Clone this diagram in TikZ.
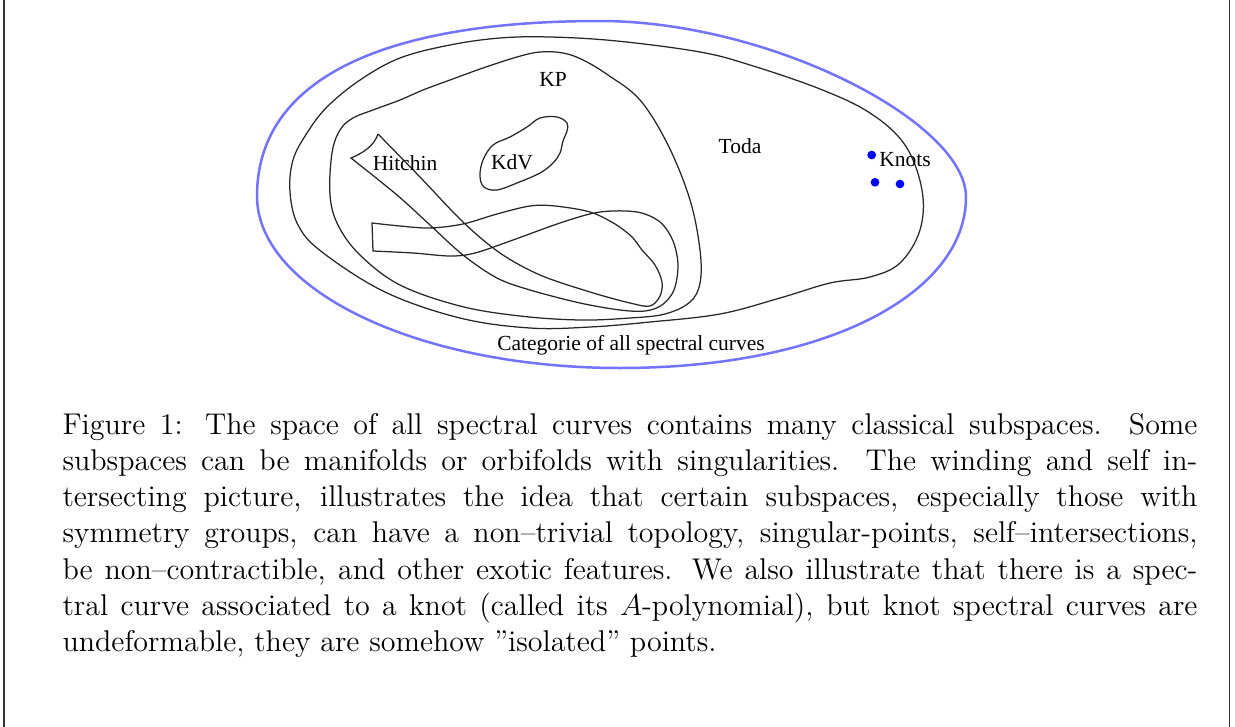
\documentclass[tikz,border=0pt]{standalone}
\usepackage{fontspec}
\newfontfamily\labelfont{Liberation Serif}
\definecolor{ellblue}{RGB}{115,115,255}
\definecolor{knotblue}{RGB}{0,0,255}
\begin{document}
\begin{tikzpicture}[x=0.4pt,y=-0.4pt,
  curve/.style={black!85, line width=0.5pt},
  region/.style={font=\labelfont\fontsize{8.6}{10}\selectfont, inner sep=0pt},
  knot/.style={fill=knotblue, draw=none},
  frameline/.style={black!80, line width=0.5pt}]
\useasboundingbox (0,0) rectangle (1235,727);
% frame sides
\coordinate (fl1) at (4,0); \coordinate (fl2) at (4,727);
\coordinate (fr1) at (1229.5,0); \coordinate (fr2) at (1229.5,727);
\draw[frameline] (fl1) -- (fl2);
\draw[frameline] (fr1) -- (fr2);
% outer blue oval
\coordinate (ovL) at (257,196);
\coordinate (ovT) at (600,21);
\coordinate (ovR) at (966,197);
\coordinate (ovB) at (620,368);
\draw[draw=ellblue, line width=1pt]
  (ovL) .. controls (257,82) and (377,21) .. (ovT)
        .. controls (770,21) and (966,122) .. (ovR)
        .. controls (966,292) and (830,368) .. (ovB)
        .. controls (420,368) and (257,291) .. (ovL) -- cycle;
% Toda
\draw[curve] plot[smooth cycle, tension=0.6] coordinates {
 (290,192) (293,160) (307,133) (327,107) (360,80) (400,58) (450,45) (500,38)
 (550,37) (617,41) (700,52) (750,65) (820,89) (870,113) (905,145) (922,190)
 (920,230) (900,263) (870,277) (830,283) (780,298) (720,314) (650,322) (590,327)
 (530,328) (460,318) (385,292) (322,252) (298,225)};
% KP
\draw[curve] plot[smooth cycle, tension=0.6] coordinates {
 (330,195) (332,153) (340,130) (353,118) (373,110) (400,100) (423,90) (450,80)
 (483,68) (517,57) (540,52) (563,53) (583,60) (608,75) (640,100) (668,145)
 (690,200) (700,250) (700,283) (690,302) (665,314) (630,318) (580,320) (520,316)
 (460,306) (400,285) (360,255) (338,225)};
% KdV
\draw[curve] plot[smooth cycle, tension=0.6] coordinates {
 (480,176) (483,160) (493,145) (510,137) (527,127) (540,118) (557,117) (567,123)
 (567,131) (563,141) (560,153) (553,163) (540,173) (517,183) (497,190) (484,187)};
% Hitchin
\draw[curve] plot[smooth, tension=0.55] coordinates {
 (378,134) (420,177) (463,222) (500,253) (540,275) (590,292) (630,303) (650,306)
 (660,296) (662,282) (655,265) (642,250) (632,237) (615,224) (590,212) (555,206)
 (530,206) (497,214) (463,224) (430,228) (400,226) (372,223)}
 -- plot[smooth, tension=0.55] coordinates {
 (373,251) (413,253) (450,256) (475,253) (513,240) (563,222) (600,212) (637,212)
 (660,222) (673,241) (678,265) (674,290) (662,305) (645,311) (620,310) (580,303)
 (530,290) (497,278) (463,255) (430,225) (397,195) (351,158)}
 .. controls (363,153) and (374,146) .. (378,134);
% knot points
\fill[knot] (871.7,155) circle[radius=1.75pt];
\fill[knot] (875,182.3) circle[radius=1.75pt];
\fill[knot] (900,184) circle[radius=1.75pt];
% labels
\node[region] (kp) at (553,79) {KP};
\node[region] (hitchin) at (405,163) {Hitchin};
\node[region] (kdv) at (512,162) {KdV};
\node[region] (toda) at (740,146) {Toda};
\node[region] (knots) at (905,160) {Knots};
\node[region] (all) at (631,345) {Categorie of all spectral curves};
% caption
\node[anchor=base west, inner sep=0pt, text width=454pt, align=justify,
      font=\fontsize{12}{14.5}\selectfont] (caption) at (62,434) {%
Figure 1: The space of all spectral curves contains many classical subspaces. Some\linebreak
subspaces can be manifolds or orbifolds with singularities. The winding and self in-\linebreak
tersecting picture, illustrates the idea that certain subspaces, especially those with\linebreak
symmetry groups, can have a non--trivial topology, singular-points, self--intersections,\linebreak
be non--contractible, and other exotic features. We also illustrate that there is a spec-\linebreak
tral curve associated to a knot (called its $A$-polynomial), but knot spectral curves are\linebreak
undeformable, they are somehow ''isolated'' points.};
\end{tikzpicture}
\end{document}
